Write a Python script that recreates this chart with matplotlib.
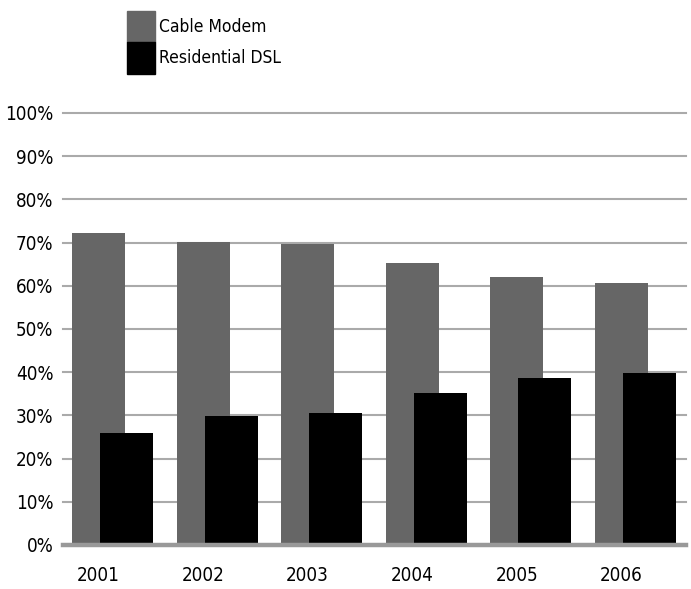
import numpy as np
import matplotlib.pyplot as plt
from matplotlib.patches import Patch

plt.rcParams['font.family'] = ['DejaVu Sans']
plt.rcParams['font.stretch'] = 'condensed'

years = ['2001', '2002', '2003', '2004', '2005', '2006']
cable_modem = [72.2, 70.2, 69.7, 65.3, 62.0, 60.6]
residential_dsl = [25.9, 29.9, 30.5, 35.2, 38.7, 39.8]

GRAY = '#666666'
GRID = '#aaaaaa'

fig = plt.figure(figsize=(6.91, 5.89), dpi=100)
ax = fig.add_axes([63 / 691, 44 / 589, 623 / 691, 432 / 589])

x = np.arange(len(years))
width = 0.507
offset = 0.268

# horizontal grid behind everything
for v in range(10, 101, 10):
    ax.axhline(v, color=GRID, lw=1.5, zorder=0, clip_on=False)

ax.bar(x, cable_modem, width, color=GRAY, zorder=2)
ax.bar(x + offset, residential_dsl, width, color='black', zorder=3)
ax.axhline(0, color='#999999', lw=3.2, zorder=4, clip_on=False)

ax.set_xlim(-0.339, 5.617)
ax.set_ylim(0, 100)
ax.set_yticks(range(0, 101, 10))
ax.set_yticklabels([f'{v}%' for v in range(0, 101, 10)])
ax.set_xticks(x)
ax.set_xticklabels(years)
ax.tick_params(axis='y', length=0, pad=7, labelsize=13.5)
ax.tick_params(axis='x', length=0, pad=15, labelsize=13.5)
for s in ax.spines.values():
    s.set_visible(False)

handles = [Patch(color=GRAY, label='Cable Modem'),
           Patch(color='black', label='Residential DSL')]
fig.legend(handles=handles, loc='upper left',
           bbox_to_anchor=(127 / 691, 1 - 11 / 589),
           frameon=False, fontsize=12.5, borderpad=0, borderaxespad=0,
           labelspacing=0, handlelength=1.6, handleheight=2.4,
           handletextpad=0.25)

fig.savefig('out.png', dpi=100)
